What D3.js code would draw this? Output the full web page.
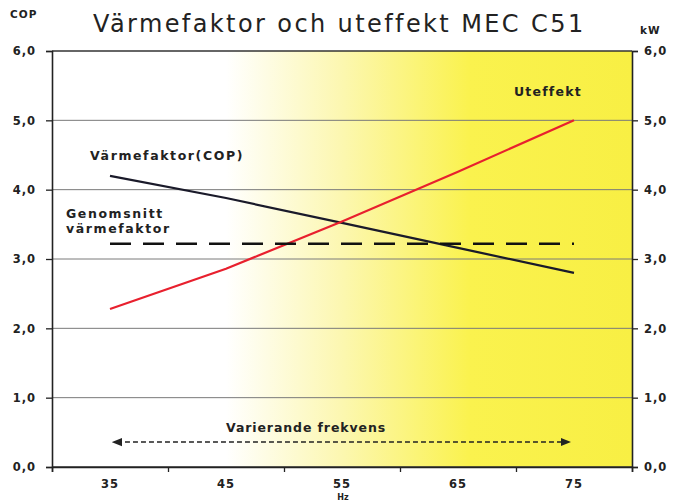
<!DOCTYPE html>
<html>
<head>
<meta charset="utf-8">
<script src="https://cdn.jsdelivr.net/npm/d3@7"></script>
<style>
  body { margin: 0; background: #fff; }
  svg { display: block; }
  text { font-family: "DejaVu Sans", Verdana, sans-serif; fill: #222; }
</style>
</head>
<body>
<div id="chart"></div>
<script>
// data
const hz = [35, 45, 55, 65, 75];
const cop = [4.2, 3.88, 3.52, 3.16, 2.8];          // Värmefaktor (COP)
const kw = [2.28, 2.86, 3.54, 4.26, 5.0];          // Uteffekt (kW)
const copAvg = [3.22, 3.22];                        // Genomsnitt värmefaktor
const avgHz = [35, 75];
const yTicks = [0, 1, 2, 3, 4, 5, 6];
const xTicks = [30, 40, 50, 60, 70, 80];

const W = 674, H = 501;
const svg = d3.select("#chart").append("svg")
    .attr("width", W)
    .attr("height", H);

const x = d3.scaleLinear().domain([30, 80]).range([52, 632]);
const y = d3.scaleLinear().domain([0, 6]).range([467, 51]);
const yKw = d3.scaleLinear().domain([0, 6]).range([467, 51]);

// background gradient white -> yellow
const defs = svg.append("defs");
const grad = defs.append("linearGradient")
    .attr("id", "bg")
    .attr("x1", "0%").attr("x2", "100%")
    .attr("y1", "0%").attr("y2", "0%");
grad.append("stop").attr("offset", "0.3").attr("stop-color", "#ffffff");
grad.append("stop").attr("offset", "0.5").attr("stop-color", "#fcf7b0");
grad.append("stop").attr("offset", "0.72").attr("stop-color", "#faf24e");
grad.append("stop").attr("offset", "1").attr("stop-color", "#f8ef44");

svg.append("rect")
    .attr("x", x(30)).attr("y", y(6))
    .attr("width", x(80) - x(30))
    .attr("height", y(0) - y(6))
    .attr("fill", "url(#bg)");

// arrow markers
["start", "end"].forEach(k => {
  defs.append("marker")
      .attr("id", "arr-" + k)
      .attr("viewBox", "0 0 10 10")
      .attr("refX", 5).attr("refY", 5)
      .attr("markerWidth", 7).attr("markerHeight", 7)
      .attr("orient", k === "end" ? "auto" : "auto-start-reverse")
    .append("path")
      .attr("d", "M0,1 L10,5 L0,9 Z")
      .attr("fill", "#222");
});

// horizontal grid lines
svg.append("g")
  .selectAll("line")
  .data(yTicks)
  .join("line")
    .attr("x1", x(30)).attr("x2", x(80))
    .attr("y1", d => y(d)).attr("y2", d => y(d))
    .attr("stroke", d => d === 6 || d === 0 ? "#333" : "#7a7a7a")
    .attr("stroke-width", d => d === 6 || d === 0 ? 1.5 : 1);

// left axis
const fmt = d => d3.format(".1f")(d).replace(".", ",");
const gl = svg.append("g")
    .attr("transform", `translate(${x(30)},0)`)
    .call(d3.axisLeft(y).tickValues(yTicks).tickSize(6).tickPadding(10).tickFormat(fmt));

// right axis
const gr = svg.append("g")
    .attr("transform", `translate(${x(80)},0)`)
    .call(d3.axisRight(yKw).tickValues(yTicks).tickSize(6).tickPadding(6).tickFormat(fmt));

// bottom axis: ticks only, labels placed in between
const gb = svg.append("g")
    .attr("transform", `translate(0,${y(0)})`)
    .call(d3.axisBottom(x).tickValues(xTicks).tickSize(5).tickFormat(""));

[gl, gr, gb].forEach(g => {
  g.select(".domain").attr("stroke", "#222").attr("stroke-width", 1.6);
  g.selectAll(".tick line").attr("stroke", "#222").attr("stroke-width", 1.3);
  g.selectAll(".tick text")
      .attr("font-size", 11.5)
      .attr("font-weight", "bold")
      .attr("fill", "#222")
      .style("font-family", "'DejaVu Sans', Verdana, sans-serif")
      .style("letter-spacing", "1px");
});

svg.append("g")
  .selectAll("text")
  .data(hz)
  .join("text")
    .attr("x", d => x(d))
    .attr("y", 488)
    .attr("text-anchor", "middle")
    .attr("font-size", 11.5)
    .attr("font-weight", "bold")
    .style("letter-spacing", "1px")
    .text(d => d);

svg.append("text")
    .attr("x", x(55) + 1).attr("y", 500)
    .attr("text-anchor", "middle")
    .attr("font-size", 8)
    .attr("font-weight", "bold")
    .text("Hz");

// lines
const line = d3.line().x(d => x(d[0])).y(d => y(d[1]));

svg.append("path")
    .datum(d3.zip(hz, cop))
    .attr("d", line)
    .attr("fill", "none")
    .attr("stroke", "#1a1a2a")
    .attr("stroke-width", 2.2);

svg.append("path")
    .datum(d3.zip(hz, kw.map(v => y.invert(yKw(v)))))
    .attr("d", line)
    .attr("fill", "none")
    .attr("stroke", "#e8202e")
    .attr("stroke-width", 2.2);

svg.append("path")
    .datum(d3.zip(avgHz, copAvg))
    .attr("d", line)
    .attr("fill", "none")
    .attr("stroke", "#111")
    .attr("stroke-width", 2.4)
    .attr("stroke-dasharray", "21,12");

// frequency arrow
svg.append("line")
    .attr("x1", x(35.6)).attr("x2", x(74.3))
    .attr("y1", y(0.36)).attr("y2", y(0.36))
    .attr("stroke", "#222")
    .attr("stroke-width", 1.5)
    .attr("stroke-dasharray", "5,3")
    .attr("marker-start", "url(#arr-start)")
    .attr("marker-end", "url(#arr-end)");

// texts
svg.append("text")
    .attr("x", 93).attr("y", 32)
    .attr("font-size", 24)
    .style("letter-spacing", "2.4px")
    .attr("fill", "#111")
    .text("Värmefaktor och uteffekt MEC C51");

svg.append("text")
    .attr("x", 10).attr("y", 18)
    .attr("font-size", 10.5).attr("font-weight", "bold")
    .style("letter-spacing", "1px")
    .text("COP");

svg.append("text")
    .attr("x", 640).attr("y", 34)
    .attr("font-size", 10.5).attr("font-weight", "bold")
    .style("letter-spacing", "1px")
    .text("kW");

const lbl = (t, px, py, ls) => svg.append("text")
    .attr("x", px).attr("y", py)
    .attr("font-size", 12.5).attr("font-weight", "bold")
    .style("letter-spacing", (ls || 1.6) + "px")
    .text(t);

lbl("Värmefaktor(COP)", 90, 160);
lbl("Genomsnitt", 66, 218);
lbl("värmefaktor", 66, 233);
lbl("Uteffekt", 514, 96, 1.2);
lbl("Varierande frekvens", 226, 432, 0.9);
</script>
</body>
</html>
